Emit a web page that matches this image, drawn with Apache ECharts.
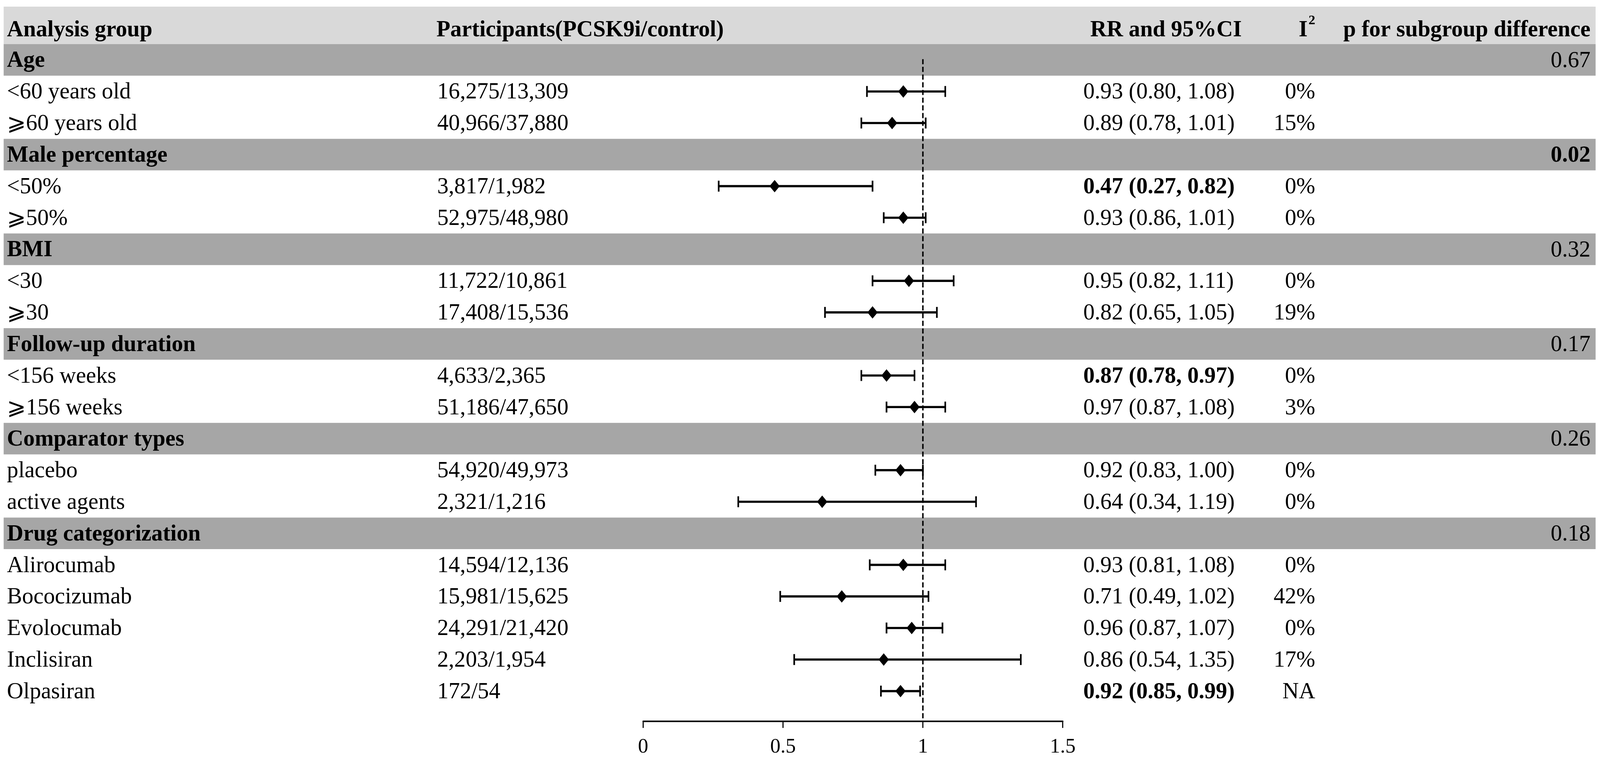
<!DOCTYPE html>
<html>
<head>
<meta charset="utf-8">
<script src="https://cdn.jsdelivr.net/npm/echarts@6/dist/echarts.min.js"></script>
<style>
html, body { margin: 0; padding: 0; background: #fff; overflow: hidden; }
#main { width: 100vw; height: 100vh; }
</style>
</head>
<body>
<div id="main"></div>
<script>
// rows of the table, top to bottom
var rowLabels = ['Age', '<60 years old', '⩾60 years old',
  'Male percentage', '<50%', '⩾50%',
  'BMI', '<30', '⩾30',
  'Follow-up duration', '<156 weeks', '⩾156 weeks',
  'Comparator types', 'placebo', 'active agents',
  'Drug categorization', 'Alirocumab', 'Bococizumab', 'Evolocumab', 'Inclisiran', 'Olpasiran'];
var isGroup = [1, 0, 0, 1, 0, 0, 1, 0, 0, 1, 0, 0, 1, 0, 0, 1, 0, 0, 0, 0, 0];
var participants = ['', '16,275/13,309', '40,966/37,880',
  '', '3,817/1,982', '52,975/48,980',
  '', '11,722/10,861', '17,408/15,536',
  '', '4,633/2,365', '51,186/47,650',
  '', '54,920/49,973', '2,321/1,216',
  '', '14,594/12,136', '15,981/15,625', '24,291/21,420', '2,203/1,954', '172/54'];
var rr    = [null, 0.93, 0.89, null, 0.47, 0.93, null, 0.95, 0.82, null, 0.87, 0.97, null, 0.92, 0.64, null, 0.93, 0.71, 0.96, 0.86, 0.92];
var lower = [null, 0.80, 0.78, null, 0.27, 0.86, null, 0.82, 0.65, null, 0.78, 0.87, null, 0.83, 0.34, null, 0.81, 0.49, 0.87, 0.54, 0.85];
var upper = [null, 1.08, 1.01, null, 0.82, 1.01, null, 1.11, 1.05, null, 0.97, 1.08, null, 1.00, 1.19, null, 1.08, 1.02, 1.07, 1.35, 0.99];
var i2 = ['', '0%', '15%', '', '0%', '0%', '', '0%', '19%', '', '0%', '3%', '', '0%', '0%', '', '0%', '42%', '0%', '17%', 'NA'];
var pDiff = ['0.67', '', '', '0.02', '', '', '0.32', '', '', '0.17', '', '', '0.26', '', '', '0.18', '', '', '', '', ''];
var xTicks = [0, 0.5, 1, 1.5];

var myChart = echarts.init(document.getElementById('main'));

// layout is measured on a 4366 x 1946 page, scaled to whatever the window really is
var sx = myChart.getWidth() / 4366;
var sy = myChart.getHeight() / 1946;
var sf = Math.min(sx, sy);
function X(v) { return v * sx; }
function Y(v) { return v * sy; }

var FONT = "'Liberation Serif', 'Times New Roman', 'DejaVu Serif', 'DejaVu Sans', serif";
var FS = 62 * sf;
var BAND_L = X(10), BAND_R = X(4354);
var COL = { label: X(19), part: X(1193), rr: X(2956), i2: X(3589), p: X(4340) };
var AXIS_OFFSET = Y(37);

function fmt(v) { return v.toFixed(2); }
function sig(i) { return rr[i] != null && (upper[i] < 1 || lower[i] > 1); }
function font(bold, size) { return (bold ? 'bold ' : '') + size + 'px ' + FONT; }

var rowIdx = rowLabels.map(function (_, i) { return i; });
var ciData = [];
var pointData = [];
rr.forEach(function (v, i) {
  if (v != null) {
    ciData.push([lower[i], upper[i], i]);
    pointData.push([v, i]);
  }
});

function txt(s, x, y, bold, align) {
  return {
    type: 'text',
    style: { text: s, x: x, y: y, fill: '#000', font: font(bold, FS), align: align || 'left', verticalAlign: 'middle' }
  };
}

var headY = Y(78);
var option = {
  backgroundColor: '#fff',
  animation: false,
  grid: { left: X(1755), width: X(1145), top: Y(113), height: Y(1697) },
  xAxis: {
    type: 'value', min: 0, max: 1.5, interval: 0.5,
    offset: AXIS_OFFSET,
    axisLine: { show: true, lineStyle: { color: '#000', width: 4 * sf } },
    axisTick: { show: true, length: 18 * sf, lineStyle: { color: '#000', width: 3 * sf } },
    axisLabel: {
      color: '#000', fontSize: 56 * sf, fontFamily: FONT, margin: 42 * sf,
      formatter: function (v) { return xTicks.indexOf(v) > -1 ? String(v) : ''; }
    },
    splitLine: { show: false }
  },
  yAxis: { type: 'category', data: rowLabels, inverse: true, show: false },
  graphic: [
    { type: 'rect', shape: { x: BAND_L, y: Y(17), width: BAND_R - BAND_L, height: Y(96) }, style: { fill: '#d9d9d9' }, z: 0 },
    { type: 'text', style: { text: 'Analysis group', x: COL.label, y: headY, font: font(true, FS), fill: '#000', verticalAlign: 'middle' } },
    { type: 'text', style: { text: 'Participants(PCSK9i/control)', x: X(1191), y: headY, font: font(true, FS), fill: '#000', verticalAlign: 'middle' } },
    { type: 'text', style: { text: 'RR and 95%CI', x: X(2975), y: headY, font: font(true, FS), fill: '#000', verticalAlign: 'middle' } },
    { type: 'text', style: { text: 'I', x: X(3568), y: headY, font: font(true, FS), fill: '#000', align: 'right', verticalAlign: 'middle' } },
    { type: 'text', style: { text: '2', x: COL.i2, y: Y(53), font: font(true, 37 * sf), fill: '#000', align: 'right', verticalAlign: 'middle' } },
    { type: 'text', style: { text: 'p for subgroup difference', x: COL.p, y: headY, font: font(true, FS), fill: '#000', align: 'right', verticalAlign: 'middle' } }
  ],
  series: [
    {
      // grey bands behind the group rows
      type: 'custom', name: 'bands', clip: false, z: 1, silent: true,
      data: rowIdx,
      encode: { y: 0 },
      renderItem: function (params, api) {
        var i = api.value(0);
        if (!isGroup[i]) return null;
        var c = api.coord([0, i]);
        var h = api.size([0, 1])[1];
        return { type: 'rect', shape: { x: BAND_L, y: c[1] - h / 2, width: BAND_R - BAND_L, height: h }, style: { fill: '#a6a6a6' } };
      }
    },
    {
      // table text
      type: 'custom', name: 'table', clip: false, z: 3, silent: true,
      data: rowIdx,
      encode: { y: 0 },
      renderItem: function (params, api) {
        var i = api.value(0);
        var y = api.coord([0, i])[1] + 3 * sy;
        var kids = [txt(rowLabels[i], COL.label, y, !!isGroup[i])];
        if (participants[i]) kids.push(txt(participants[i], COL.part, y, false));
        if (rr[i] != null) {
          kids.push(txt(fmt(rr[i]) + ' (' + fmt(lower[i]) + ', ' + fmt(upper[i]) + ')', COL.rr, y, sig(i)));
        }
        if (i2[i]) kids.push(txt(i2[i], COL.i2, y, false, 'right'));
        if (pDiff[i]) kids.push(txt(pDiff[i], COL.p, y, parseFloat(pDiff[i]) < 0.05, 'right'));
        return { type: 'group', children: kids };
      }
    },
    {
      // reference line at RR = 1
      type: 'custom', name: 'ref', clip: false, z: 4, silent: true,
      data: [[1]],
      renderItem: function (params, api) {
        var top = api.coord([api.value(0), 0]);
        var bottom = api.coord([api.value(0), rowLabels.length - 1]);
        var h = api.size([0, 1])[1];
        return {
          type: 'line',
          shape: { x1: top[0], y1: top[1] - 2 * sy, x2: top[0], y2: bottom[1] + h / 2 + AXIS_OFFSET },
          style: { stroke: '#000', lineWidth: 4 * sf, lineDash: [14 * sf, 7 * sf] }
        };
      }
    },
    {
      // confidence intervals with end caps
      type: 'custom', name: 'ci', clip: false, z: 5, silent: true,
      data: ciData,
      encode: { x: [0, 1], y: 2 },
      renderItem: function (params, api) {
        var a = api.coord([api.value(0), api.value(2)]);
        var b = api.coord([api.value(1), api.value(2)]);
        var cap = 14 * sy;
        return {
          type: 'group',
          children: [
            { type: 'line', shape: { x1: a[0], y1: a[1], x2: b[0], y2: b[1] }, style: { stroke: '#000', lineWidth: 6 * sf } },
            { type: 'line', shape: { x1: a[0], y1: a[1] - cap, x2: a[0], y2: a[1] + cap }, style: { stroke: '#000', lineWidth: 4.5 * sf } },
            { type: 'line', shape: { x1: b[0], y1: b[1] - cap, x2: b[0], y2: b[1] + cap }, style: { stroke: '#000', lineWidth: 4.5 * sf } }
          ]
        };
      }
    },
    {
      type: 'scatter', name: 'RR', z: 6, silent: true,
      data: pointData,
      symbol: 'diamond', symbolSize: [28 * sf, 34 * sf],
      itemStyle: { color: '#000', opacity: 1 }
    }
  ]
};

myChart.setOption(option);
</script>
</body>
</html>
